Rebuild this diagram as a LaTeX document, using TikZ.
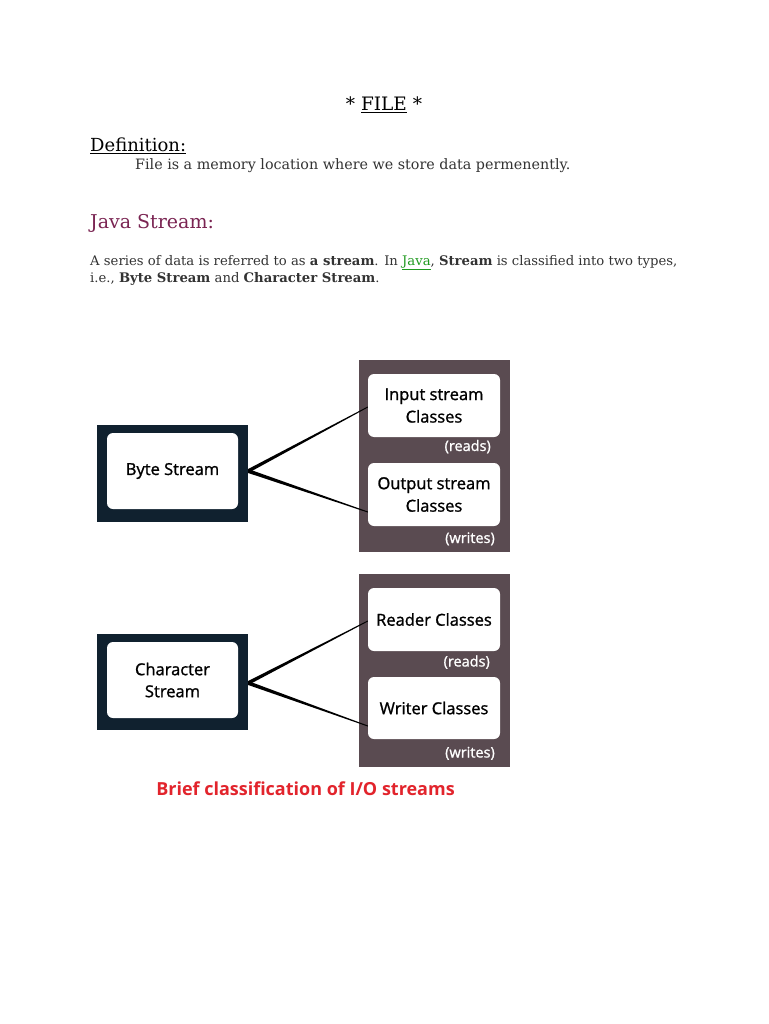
\documentclass[tikz,border=0pt]{standalone}
\usepackage{fontspec}
\setmainfont{DejaVu Serif}
\newfontfamily\diagfont{Open Sans}[FakeBold=1.2]
\newfontfamily\capfont{Open Sans}
\usetikzlibrary{calc}

\definecolor{navy}{HTML}{10212F}
\definecolor{panelgray}{HTML}{5A4B51}
\definecolor{capred}{HTML}{E2242C}
\definecolor{headpurple}{HTML}{7A2452}
\definecolor{linkgreen}{HTML}{1F9A1F}
\definecolor{bodygray}{HTML}{333333}

\begin{document}
\begin{tikzpicture}[x=1pt, y=-1pt,
    txt/.style={anchor=base west, inner sep=0pt},
    outerbox/.style={fill=navy, minimum width=151pt, minimum height=97pt},
    streambox/.style={fill=white, rounded corners=6pt, minimum width=131pt, minimum height=76pt, align=center, font=\diagfont\fontsize{16.5}{22}\selectfont},
    panel/.style={fill=panelgray, minimum width=151pt, minimum height=192pt},
    classbox/.style={fill=white, rounded corners=6pt, minimum width=132pt, minimum height=63pt, align=center, font=\diagfont\fontsize{16.5}{22.5}\selectfont},
    note/.style={anchor=base east, inner sep=0pt, text=white, font=\diagfont\fontsize{14.5}{17}\selectfont}
]
% page
\path[fill=white, use as bounding box] (0,0) rectangle (768,1024);

% --- 1. HEADINGS AND TEXT ---
\node[anchor=base, inner sep=0pt, font=\fontsize{18.5}{22}\selectfont] (title) at (384,111) {* \underline{FILE} *};
\node[txt, font=\fontsize{18}{22}\selectfont] (defhead) at (90,152) {\underline{Definition:}};
\node[txt, text=bodygray, font=\fontsize{14.3}{17}\selectfont] (deftext) at (135,170) {File is a memory location where we store data permenently.};
\node[txt, text=headpurple, font=\fontsize{19}{23}\selectfont] (javahead) at (90,229) {Java Stream:};
\node[txt, text=bodygray, font=\fontsize{13.2}{17}\selectfont] (para1) at (90,265) {A series of data is referred to as \textbf{a stream}. In \textcolor{linkgreen}{\underline{Java}}, \textbf{Stream} is classified into two types,};
\node[txt, text=bodygray, font=\fontsize{13.2}{17}\selectfont] (para2) at (90,282) {i.e., \textbf{Byte Stream} and \textbf{Character Stream}.};

% --- 2. BYTE STREAM ---
\node[outerbox] (byteout) at (172.5,473) {};
\node[streambox] (byte) at (172.5,471) {Byte Stream};
\node[panel] (bytepanel) at (434.5,456) {};
\node[classbox] (input) at (434,405.5) {Input stream\\Classes};
\node[note] (inreads) at (491,451) {(reads)};
\node[classbox] (output) at (434,494.5) {Output stream\\Classes};
\node[note] (outwrites) at (495,543) {(writes)};

% --- 3. CHARACTER STREAM ---
\node[outerbox, minimum height=96pt] (charout) at (172.5,682) {};
\node[streambox] (char) at (172.5,680) {Character\\Stream};
\node[panel, minimum height=193pt] (charpanel) at (434,670.5) {};
\node[classbox] (reader) at (434,619.5) {Reader Classes};
\node[note] (rdreads) at (490,666.5) {(reads)};
\node[classbox, minimum height=62pt] (writer) at (434,708) {Writer Classes};
\node[note] (wrwrites) at (495,757.5) {(writes)};

% --- 4. CONNECTORS (tapered lines) ---
\coordinate (bytehub) at ($(byteout.east)+(0,-2)$);
\coordinate (inputend) at ($(input.west)+(0,1.5)$);
\coordinate (outputend) at ($(output.west)+(0,17.5)$);
\coordinate (charhub) at ($(charout.east)+(0,1)$);
\coordinate (readerend) at ($(reader.west)+(0,1.5)$);
\coordinate (writerend) at ($(writer.west)+(0,18)$);
\foreach \hub/\tip in {bytehub/inputend, bytehub/outputend, charhub/readerend, charhub/writerend}
    \fill ($(\hub)+(0,-2)$) -- ($(\tip)+(0,-0.5)$) -- ($(\tip)+(0,0.5)$) -- ($(\hub)+(0,2)$) -- cycle;

% --- 5. CAPTION ---
\node[inner sep=0pt, text=capred, font=\capfont\bfseries\fontsize{18}{22}\selectfont] (caption) at (305.5,789) {Brief classification of I/O streams};

\end{tikzpicture}
\end{document}
